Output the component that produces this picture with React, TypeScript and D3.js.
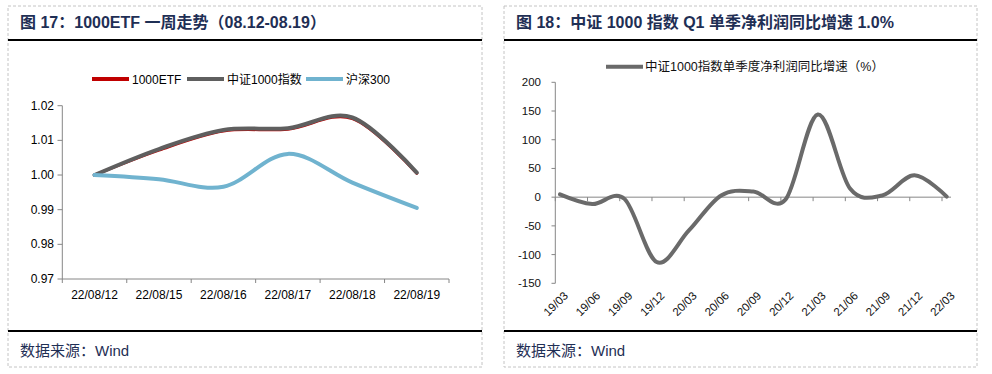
import React, { useEffect, useRef } from "react";
import * as d3 from "d3";

const dates = ["22/08/12", "22/08/15", "22/08/16", "22/08/17", "22/08/18", "22/08/19"];
const etf1000 = [1.0, 1.0072, 1.0127, 1.0132, 1.0163, 1.0005];
const csi1000 = [1.0, 1.0075, 1.013, 1.0135, 1.0166, 1.0007];
const hs300 = [1.0, 0.9988, 0.9966, 1.0061, 0.9978, 0.9905];
const leftTicks = [0.97, 0.98, 0.99, 1.0, 1.01, 1.02];

const quarters = ["19/03", "19/06", "19/09", "19/12", "20/03", "20/06", "20/09", "20/12", "21/03", "21/06", "21/09", "21/12", "22/03"];
const growth = [5, -12, -3, -113, -58, 3, 10, -4, 144, 15, 3, 38, 1];
const rightTicks = [-150, -100, -50, 0, 50, 100, 150, 200];

const FONT = "'Liberation Sans', Arial, 'Noto Sans CJK SC', sans-serif";
const TITLE_COLOR = "#1f2f55";
const AXIS = "#868686";

const App: React.FC = () => {
  const svgRef = useRef<SVGSVGElement | null>(null);

  useEffect(() => {
    if (!svgRef.current) return;
    const svg = d3.select(svgRef.current);
    svg.selectAll("*").remove();
    svg.attr("font-family", FONT);

    // panel frames
    const panels = [
      { x0: 8, x1: 482, title: "图 17：1000ETF 一周走势（08.12-08.19）" },
      { x0: 504, x1: 977, title: "图 18：中证 1000 指数 Q1 单季净利润同比增速 1.0%" },
    ];
    panels.forEach((p) => {
      svg.append("rect")
        .attr("x", p.x0).attr("y", 6)
        .attr("width", p.x1 - p.x0).attr("height", 361)
        .attr("fill", "none")
        .attr("stroke", "#c4c4c4")
        .attr("stroke-dasharray", "3,2");
      svg.append("line")
        .attr("x1", p.x0).attr("x2", p.x1).attr("y1", 40).attr("y2", 40)
        .attr("stroke", "#000").attr("stroke-width", 2);
      svg.append("line")
        .attr("x1", p.x0).attr("x2", p.x1).attr("y1", 331).attr("y2", 331)
        .attr("stroke", "#000").attr("stroke-width", 2);
      svg.append("text")
        .attr("x", p.x0 + 12).attr("y", 28)
        .attr("font-size", 16).attr("font-weight", "bold")
        .attr("fill", TITLE_COLOR)
        .text(p.title);
      svg.append("text")
        .attr("x", p.x0 + 12).attr("y", 356)
        .attr("font-size", 15)
        .attr("fill", TITLE_COLOR)
        .text("数据来源：Wind");
    });

    // ---- left chart
    const x = d3.scaleBand().domain(dates).range([62.3, 449]);
    const y = d3.scaleLinear().domain([0.97, 1.02]).range([279, 105.7]);
    const cx = (d: string) => (x(d) || 0) + x.bandwidth() / 2;
    const L = svg.append("g");

    L.append("line").attr("x1", 62.3).attr("x2", 62.3).attr("y1", y(1.02)).attr("y2", y(0.97)).attr("stroke", AXIS);
    L.append("line").attr("x1", 62.3).attr("x2", 449).attr("y1", y(0.97)).attr("y2", y(0.97)).attr("stroke", AXIS);
    leftTicks.forEach((t) => {
      L.append("line").attr("x1", 57.5).attr("x2", 62.3).attr("y1", y(t)).attr("y2", y(t)).attr("stroke", AXIS);
      L.append("text").attr("x", 54).attr("y", y(t) + 4).attr("text-anchor", "end")
        .attr("font-size", 12).attr("fill", "#000").text(d3.format(".2f")(t));
    });
    [...dates.map((d) => x(d) || 0), 449].forEach((tx) => {
      L.append("line").attr("x1", tx).attr("x2", tx).attr("y1", y(0.97)).attr("y2", y(0.97) + 4).attr("stroke", AXIS);
    });
    dates.forEach((d) => {
      L.append("text").attr("x", cx(d)).attr("y", 299).attr("text-anchor", "middle")
        .attr("font-size", 12).attr("fill", "#000").text(d);
    });

    const leftSeries = [
      { name: "1000ETF", values: etf1000, color: "#c00000", w: 3 },
      { name: "中证1000指数", values: csi1000, color: "#5f5f5f", w: 4 },
      { name: "沪深300", values: hs300, color: "#70b3cf", w: 4 },
    ];
    const line = d3.line<number>()
      .x((_, i) => cx(dates[i]))
      .y((v) => y(v))
      .curve(d3.curveCardinal.tension(0));
    leftSeries.forEach((s) => {
      L.append("path").datum(s.values)
        .attr("fill", "none").attr("stroke", s.color).attr("stroke-width", s.w)
        .attr("stroke-linecap", "round").attr("d", line);
    });

    // legend
    const legendX = [92, 187, 306];
    leftSeries.forEach((s, i) => {
      L.append("line").attr("x1", legendX[i]).attr("x2", legendX[i] + 37).attr("y1", 79).attr("y2", 79)
        .attr("stroke", s.color).attr("stroke-width", 4);
      L.append("text").attr("x", legendX[i] + 40).attr("y", 83.5)
        .attr("font-size", 12).attr("fill", "#000").text(s.name);
    });

    // ---- right chart
    const qx = d3.scalePoint().domain(quarters).range([560, 946.7]);
    const gy = d3.scaleLinear().domain([-150, 200]).range([283.3, 82.3]);
    const R = svg.append("g");
    R.append("line").attr("x1", 555.3).attr("x2", 555.3).attr("y1", gy(200)).attr("y2", gy(-150)).attr("stroke", AXIS);
    R.append("line").attr("x1", 555.3).attr("x2", 951).attr("y1", gy(0)).attr("y2", gy(0)).attr("stroke", AXIS);
    rightTicks.forEach((t) => {
      R.append("line").attr("x1", 551.5).attr("x2", 555.3).attr("y1", gy(t)).attr("y2", gy(t)).attr("stroke", AXIS);
      R.append("text").attr("x", 541).attr("y", gy(t) + 4).attr("text-anchor", "end")
        .attr("font-size", 11.5).attr("fill", "#111").text(t);
    });
    quarters.forEach((q) => {
      const px = qx(q) || 0;
      R.append("line").attr("x1", px - 4.7).attr("x2", px - 4.7).attr("y1", gy(0)).attr("y2", gy(0) + 4).attr("stroke", AXIS);
      R.append("text")
        .attr("transform", `translate(${px + 8.7},296.5) rotate(-45)`)
        .attr("text-anchor", "end").attr("font-size", 11.5).attr("fill", "#111").text(q);
    });

    const gline = d3.line<number>()
      .x((_, i) => qx(quarters[i]) || 0)
      .y((v) => gy(v))
      .curve(d3.curveCardinal.tension(0));
    R.append("path").datum(growth)
      .attr("fill", "none").attr("stroke", "#6a6a6a").attr("stroke-width", 4)
      .attr("stroke-linecap", "round").attr("d", gline);

    R.append("line").attr("x1", 606).attr("x2", 643).attr("y1", 66.7).attr("y2", 66.7)
      .attr("stroke", "#6a6a6a").attr("stroke-width", 4);
    R.append("text").attr("x", 645).attr("y", 71.2).attr("font-size", 12.5).attr("fill", "#111")
      .text("中证1000指数单季度净利润同比增速（%）");
  }, []);

  return (
    <svg
      ref={svgRef}
      width={992}
      height={374}
      style={{ position: "absolute", left: 0, top: 0, display: "block", background: "#fff" }}
    />
  );
};

export default App;
